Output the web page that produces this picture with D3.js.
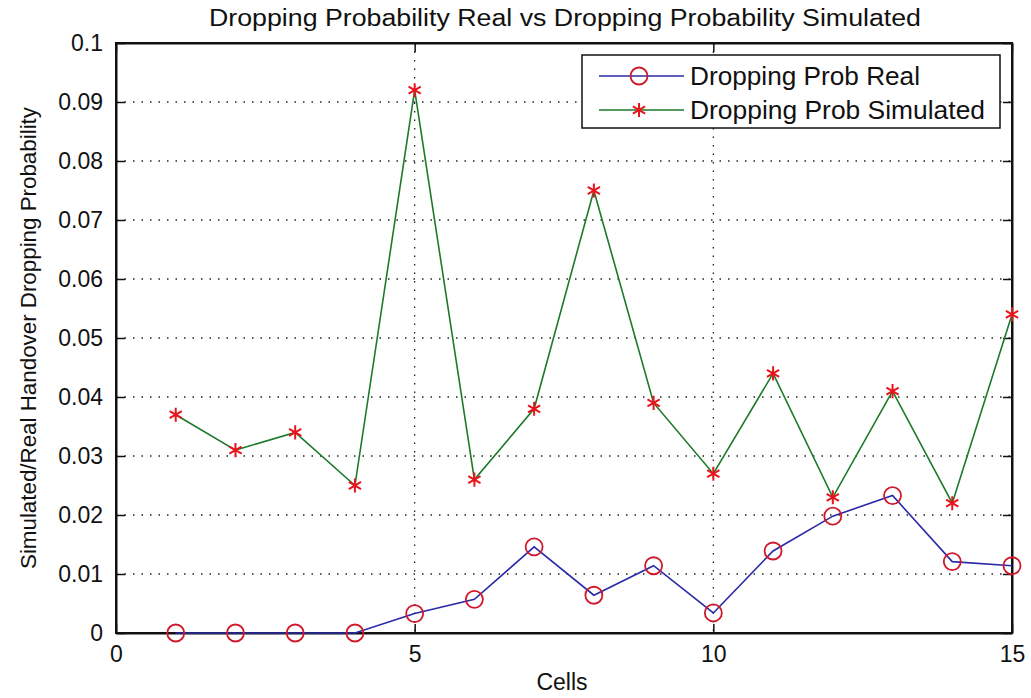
<!DOCTYPE html>
<html>
<head>
<meta charset="utf-8">
<script src="https://cdn.jsdelivr.net/npm/d3@7"></script>
<style>
  body { margin: 0; background: #fff; }
  text { font-family: "Liberation Sans", Arial, sans-serif; fill: #111; }
</style>
</head>
<body>
<div id="chart"></div>
<script>
const cells = [1, 2, 3, 4, 5, 6, 7, 8, 9, 10, 11, 12, 13, 14, 15];
const realProb = [0, 0, 0, 0, 0.0033, 0.0057, 0.0146, 0.0064, 0.0114, 0.0034, 0.0139, 0.0198, 0.0233, 0.0121, 0.0114];
const simProb = [0.037, 0.031, 0.034, 0.025, 0.092, 0.026, 0.038, 0.075, 0.039, 0.027, 0.044, 0.023, 0.041, 0.022, 0.054];
const xTicks = [0, 5, 10, 15];
const yTicks = [0, 0.01, 0.02, 0.03, 0.04, 0.05, 0.06, 0.07, 0.08, 0.09, 0.1];
const seriesNames = ['Dropping Prob Real', 'Dropping Prob Simulated'];

const width = 1031, height = 698;
const margin = { top: 43, right: 19, bottom: 65, left: 116 };

const svg = d3.select('#chart').append('svg')
  .attr('width', width)
  .attr('height', height);

const x = d3.scaleLinear().domain([0, 15]).range([margin.left, width - margin.right]);
const y = d3.scaleLinear().domain([0, 0.1]).range([height - margin.bottom, margin.top]);

const plotW = width - margin.right - margin.left;
const plotH = height - margin.bottom - margin.top;

// grid
const grid = svg.append('g').attr('stroke', '#222').attr('stroke-width', 1.3).attr('stroke-dasharray', '1.5,7');
grid.selectAll('.gy').data(yTicks.slice(1, -1)).join('line')
  .attr('x1', margin.left).attr('x2', width - margin.right)
  .attr('y1', d => y(d)).attr('y2', d => y(d));
grid.selectAll('.gx').data(xTicks.slice(1, -1)).join('line')
  .attr('x1', d => x(d)).attr('x2', d => x(d))
  .attr('y1', margin.top).attr('y2', height - margin.bottom);

// axes (ticks inward, mirrored)
const tickLen = 9;
svg.append('g').attr('transform', `translate(0,${height - margin.bottom})`)
  .call(d3.axisBottom(x).tickValues(xTicks).tickSizeInner(-tickLen).tickSizeOuter(0).tickPadding(tickLen + 4));
svg.append('g').attr('transform', `translate(${margin.left},0)`)
  .call(d3.axisLeft(y).tickValues(yTicks).tickFormat(d => d === 0 ? '0' : d3.format('.2~f')(d))
    .tickSizeInner(-tickLen).tickSizeOuter(0).tickPadding(tickLen + 4));
svg.append('g').attr('transform', `translate(0,${margin.top})`)
  .call(d3.axisTop(x).tickValues(xTicks).tickSizeInner(-tickLen).tickSizeOuter(0).tickFormat(''));
svg.append('g').attr('transform', `translate(${width - margin.right},0)`)
  .call(d3.axisRight(y).tickValues(yTicks).tickSizeInner(-tickLen).tickSizeOuter(0).tickFormat(''));
svg.selectAll('.domain').attr('stroke', '#111').attr('stroke-width', 2);
svg.selectAll('.tick line').attr('stroke', '#111').attr('stroke-width', 1.5);
svg.selectAll('.tick text').style('font-size', '23px').style('font-family', '"Liberation Sans", Arial, sans-serif').attr('fill', '#111');

// box
svg.append('rect')
  .attr('x', margin.left).attr('y', margin.top)
  .attr('width', plotW).attr('height', plotH)
  .attr('fill', 'none').attr('stroke', '#111').attr('stroke-width', 2);

// series
const line = d3.line().x((d, i) => x(cells[i])).y(d => y(d));

svg.append('path').datum(simProb)
  .attr('fill', 'none').attr('stroke', '#1d7a2a').attr('stroke-width', 1.6).attr('d', line);
svg.append('path').datum(realProb)
  .attr('fill', 'none').attr('stroke', '#2a2aa8').attr('stroke-width', 1.6).attr('d', line);

const star = d3.symbol().type(d3.symbolAsterisk).size(140);

svg.append('g').selectAll('path').data(simProb).join('path')
  .attr('transform', (d, i) => `translate(${x(cells[i])},${y(d)})`)
  .attr('d', star).attr('fill', 'none').attr('stroke', '#e8141c').attr('stroke-width', 2);

svg.append('g').selectAll('circle').data(realProb).join('circle')
  .attr('cx', (d, i) => x(cells[i])).attr('cy', d => y(d)).attr('r', 8.5)
  .attr('fill', 'none').attr('stroke', '#d0182a').attr('stroke-width', 1.8);

// legend
const legend = svg.append('g').attr('transform', 'translate(582,55)');
legend.append('rect').attr('width', 418).attr('height', 73)
  .attr('fill', '#fff').attr('stroke', '#111').attr('stroke-width', 1.5);
const rows = [
  { name: seriesNames[0], color: '#2a2aa8', marker: 'circle', len: 230 },
  { name: seriesNames[1], color: '#1d7a2a', marker: 'star', len: 295 }
];
rows.forEach((r, i) => {
  const ry = 21 + i * 34;
  legend.append('line').attr('x1', 17).attr('x2', 102).attr('y1', ry).attr('y2', ry)
    .attr('stroke', r.color).attr('stroke-width', 1.6);
  if (r.marker === 'circle') {
    legend.append('circle').attr('cx', 57).attr('cy', ry).attr('r', 8.5)
      .attr('fill', 'none').attr('stroke', '#d0182a').attr('stroke-width', 1.8);
  } else {
    legend.append('path').attr('transform', `translate(57,${ry})`).attr('d', star)
      .attr('fill', 'none').attr('stroke', '#e8141c').attr('stroke-width', 2);
  }
  legend.append('text').attr('x', 108).attr('y', ry).attr('dy', '0.35em')
    .style('font-size', '25px').attr('textLength', r.len).attr('lengthAdjust', 'spacingAndGlyphs')
    .text(r.name);
});

// titles
svg.append('text').attr('x', 565).attr('y', 26)
  .attr('text-anchor', 'middle').style('font-size', '23px')
  .attr('textLength', 712).attr('lengthAdjust', 'spacingAndGlyphs')
  .text('Dropping Probability Real vs Dropping Probability Simulated');
svg.append('text').attr('x', 562).attr('y', 690)
  .attr('text-anchor', 'middle').style('font-size', '23px').text('Cells');
svg.append('text')
  .attr('transform', `translate(36,338) rotate(-90)`)
  .attr('text-anchor', 'middle').style('font-size', '22px')
  .attr('textLength', 462).attr('lengthAdjust', 'spacingAndGlyphs')
  .text('Simulated/Real Handover Dropping Probability');
</script>
</body>
</html>
